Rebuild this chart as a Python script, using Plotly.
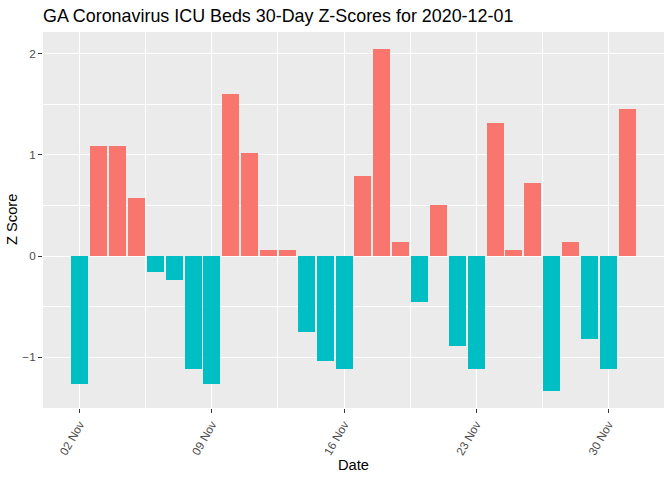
import plotly.graph_objects as go
import pandas as pd

dates = pd.date_range("2020-11-02", "2020-12-01", freq="D")
z_scores = [
    -1.263, 1.086, 1.086, 0.572, -0.158, -0.237, -1.115, -1.263,
    1.599, 1.016, 0.059, 0.059, -0.750, -1.036, -1.115,
    0.790, 2.043, 0.138, -0.454, 0.503, -0.888, -1.115,
    1.312, 0.059, 0.720, -1.332, 0.138, -0.819, -1.115, 1.450,
]
pos_color = "#F8766D"
neg_color = "#00BFC4"
colors = [pos_color if v >= 0 else neg_color for v in z_scores]

day_ms = 86400000
fig = go.Figure(
    go.Bar(
        x=dates,
        y=z_scores,
        marker=dict(color=colors, line=dict(width=0)),
        width=0.9 * day_ms,
        hoverinfo="x+y",
    )
)

# ggplot-like expansion (5%)
xmin = dates[0] - pd.Timedelta(hours=0.45 * 24)
xmax = dates[-1] + pd.Timedelta(hours=0.45 * 24)
span = xmax - xmin
xr = [xmin - span * 0.05, xmax + span * 0.05]
ymin, ymax = min(z_scores), max(z_scores)
yspan = ymax - ymin
yr = [ymin - 0.05 * yspan, ymax + 0.05 * yspan]

font_family = "Liberation Sans, Arial, sans-serif"
fig.update_layout(
    width=672,
    height=480,
    paper_bgcolor="white",
    plot_bgcolor="#EBEBEB",
    showlegend=False,
    bargap=0,
    margin=dict(l=43, r=8, t=32, b=72, autoexpand=False),
    font=dict(family=font_family, color="#000000"),
    title=dict(
        text="GA Coronavirus ICU Beds 30-Day Z-Scores for 2020-12-01",
        x=43 / 672,
        xanchor="left",
        xref="container",
        y=1 - 16 / 480,
        yanchor="middle",
        yref="container",
        font=dict(size=17.9, color="#000000", family=font_family),
    ),
    xaxis=dict(
        type="date",
        range=xr,
        automargin=False,
        tick0="2020-11-02",
        dtick=7 * day_ms,
        tickformat="%d %b",
        tickangle=-60,
        ticks="outside",
        ticklen=4,
        tickwidth=1,
        tickcolor="#333333",
        tickfont=dict(size=11.7, color="#4D4D4D"),
        showgrid=True,
        gridcolor="white",
        gridwidth=1.1,
        zeroline=False,
        showline=False,
        minor=dict(
            tick0="2020-11-05 12:00",
            dtick=7 * day_ms,
            showgrid=True,
            gridcolor="white",
            gridwidth=0.55,
            ticklen=0,
        ),
    ),
    yaxis=dict(
        range=yr,
        automargin=False,
        tick0=0,
        dtick=1,
        ticks="outside",
        ticklen=4,
        tickwidth=1,
        tickcolor="#333333",
        tickfont=dict(size=11.7, color="#4D4D4D"),
        showgrid=True,
        gridcolor="white",
        gridwidth=1.1,
        zeroline=False,
        showline=False,
        minor=dict(
            tick0=0.5,
            dtick=1,
            showgrid=True,
            gridcolor="white",
            gridwidth=0.55,
            ticklen=0,
        ),
    ),
    annotations=[
        dict(
            text="Date", xref="paper", yref="paper",
            x=0.5, y=-57 / 376, xanchor="center", yanchor="middle",
            showarrow=False, font=dict(size=14.7, color="#000000"),
        ),
        dict(
            text="Z Score", xref="paper", yref="paper",
            x=-31 / 621, y=0.5, xanchor="center", yanchor="middle",
            textangle=-90, showarrow=False,
            font=dict(size=14.7, color="#000000"),
        ),
    ],
)

fig.write_html(
    "out.html",
    config={"displayModeBar": False},
    post_script="document.body.style.margin='0';document.body.style.padding='0';",
)
